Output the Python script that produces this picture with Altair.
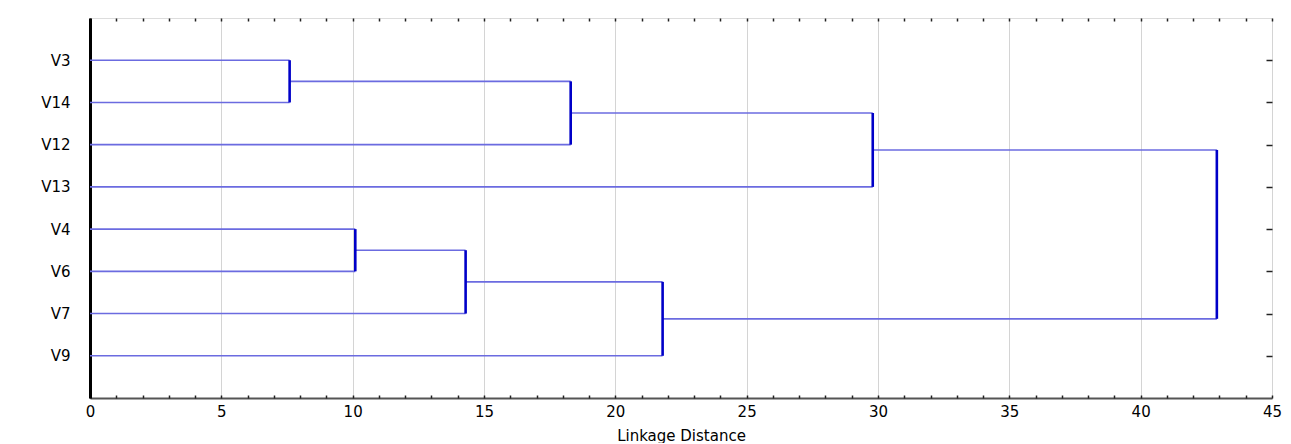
import altair as alt
import pandas as pd

# ---- data ----
leaves = ["V3", "V14", "V12", "V13", "V4", "V6", "V7", "V9"]
merge_left = ["V3", "M0", "M1", "V4", "M3", "M4", "M2"]
merge_right = ["V14", "V12", "V13", "V6", "V7", "V9", "M5"]
merge_height = [7.6, 18.3, 29.8, 10.1, 14.3, 21.8, 42.9]
x_major = [0, 5, 10, 15, 20, 25, 30, 35, 40, 45]
x_minor = list(range(0, 46))

# ---- derive node positions ----
pos = {name: i + 1 for i, name in enumerate(leaves)}
hgt = {name: 0.0 for name in leaves}
h_rows, v_rows = [], []
for i, (a, b, h) in enumerate(zip(merge_left, merge_right, merge_height)):
    m = f"M{i}"
    for c in (a, b):
        h_rows.append({"x": hgt[c], "x2": h, "y": pos[c]})
    v_rows.append({"x": h, "y": pos[a], "y2": pos[b]})
    pos[m] = (pos[a] + pos[b]) / 2
    hgt[m] = h

hdf = pd.DataFrame(h_rows)
vdf = pd.DataFrame(v_rows)

label_expr = "[" + ",".join(["''"] + [f"'{n}'" for n in leaves] + ["''"]) + "][datum.value]"

xscale = alt.Scale(domain=[0, 45], nice=False, zero=False)
yscale = alt.Scale(domain=[0, 9], reverse=True, nice=False, zero=False)
FONT = "DejaVu Sans"

horiz = alt.Chart(hdf).mark_rule(color="#6b6be0", strokeWidth=1.6).encode(
    x=alt.X("x:Q", scale=xscale, axis=alt.Axis(
        orient="bottom", values=x_major, grid=True, gridColor="#d4d4d4", gridWidth=1,
        ticks=False, domain=True, domainColor="#555555", domainWidth=2,
        labelFont=FONT, labelFontSize=15, labelColor="#000000", labelPadding=6,
        labelFlush=False, labelOverlap=False,
        title="Linkage Distance", titleFont=FONT, titleFontSize=15,
        titleFontWeight="normal", titleColor="#000000", titlePadding=9)),
    x2="x2:Q",
    y=alt.Y("y:Q", scale=yscale, axis=alt.Axis(
        orient="left", values=list(range(1, 9)), labelExpr=label_expr,
        grid=False, ticks=False, domain=True, domainColor="#000000", domainWidth=3,
        labelFont=FONT, labelFontSize=15, labelColor="#000000", labelPadding=20,
        labelFlush=False, labelOverlap=False,
        title=None, minExtent=77, maxExtent=77)),
)

vert = alt.Chart(vdf).mark_rule(color="#0000c8", strokeWidth=2.6).encode(
    x=alt.X("x:Q", scale=xscale, axis=alt.Axis(
        orient="bottom", values=x_minor, labels=False, domain=False, grid=False,
        ticks=True, tickSize=3, offset=-3, tickColor="#222222", tickWidth=1.5,
        title=None, minExtent=0, maxExtent=0)),
    y=alt.Y("y:Q", scale=yscale, axis=alt.Axis(
        orient="right", values=list(range(1, 9)), labels=False, domain=False,
        grid=False, ticks=True, tickSize=6, offset=-6, tickColor="#222222",
        tickWidth=1.5, title=None, minExtent=0, maxExtent=0)),
    y2="y2:Q",
)

top = alt.Chart(hdf).mark_rule(opacity=0).encode(
    x=alt.X("x:Q", scale=xscale, axis=alt.Axis(
        orient="top", values=x_minor, labels=False, domain=False, grid=False,
        ticks=True, tickSize=3, offset=-3, tickColor="#222222", tickWidth=1.5,
        title=None, minExtent=0, maxExtent=0)),
    y=alt.Y("y:Q", scale=yscale, axis=None),
)

chart = alt.layer(horiz, vert, top).resolve_axis(
    x="independent", y="independent"
).properties(
    width=1182, height=380,
    padding={"left": 5, "top": 9, "right": 0, "bottom": 0},
).configure_view(
    stroke="#333333", strokeWidth=2
).configure(background="white")

chart.save("out.html", embed_options={"renderer": "svg", "actions": False})
